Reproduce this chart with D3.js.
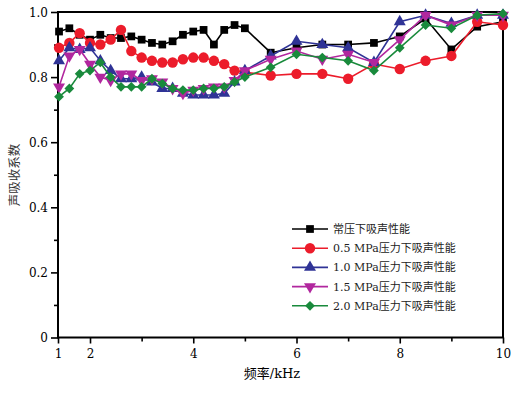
<!DOCTYPE html>
<html>
<head>
  <meta charset="utf-8">
  <script src="https://cdn.jsdelivr.net/npm/d3@7/dist/d3.min.js"></script>
  <style>
    body { margin: 0; background: #fff; }
  </style>
</head>
<body>
  <svg width="526" height="393" id="mainsvg"></svg>
  <script>
    // frequency points (kHz)
    const freqs = [1.4, 1.6, 1.8, 2.0, 2.2, 2.4, 2.6, 2.8, 3.0, 3.2, 3.4, 3.6, 3.8, 4.0, 4.2, 4.4, 4.6, 4.8, 5.0,
                   5.5, 6.0, 6.5, 7.0, 7.5, 8.0, 8.5, 9.0, 9.5, 10.0];
    const normal = [0.94, 0.95, 0.93, 0.915, 0.93, 0.92, 0.92, 0.925, 0.915, 0.905, 0.90, 0.91, 0.93, 0.94, 0.945, 0.90, 0.945, 0.96, 0.95,
                    0.875, 0.89, 0.90, 0.90, 0.905, 0.925, 0.98, 0.885, 0.955, 0.97];
    const p05 = [0.89, 0.905, 0.935, 0.905, 0.90, 0.915, 0.945, 0.88, 0.86, 0.85, 0.845, 0.845, 0.855, 0.86, 0.86, 0.85, 0.84, 0.82, 0.815,
                 0.805, 0.81, 0.81, 0.795, 0.84, 0.825, 0.85, 0.865, 0.97, 0.96];
    const p10 = [0.85, 0.89, 0.885, 0.89, 0.85, 0.82, 0.795, 0.795, 0.80, 0.785, 0.765, 0.765, 0.75, 0.745, 0.745, 0.745, 0.75, 0.785, 0.82,
                 0.865, 0.91, 0.90, 0.89, 0.845, 0.97, 0.99, 0.965, 0.99, 0.99];
    const p15 = [0.77, 0.865, 0.885, 0.84, 0.80, 0.79, 0.81, 0.81, 0.79, 0.795, 0.785, 0.765, 0.75, 0.76, 0.765, 0.77, 0.77, 0.79, 0.82,
                 0.855, 0.88, 0.855, 0.87, 0.845, 0.915, 0.99, 0.96, 0.99, 0.99];
    const p20 = [0.74, 0.765, 0.81, 0.82, 0.845, 0.80, 0.77, 0.77, 0.77, 0.795, 0.78, 0.765, 0.76, 0.76, 0.765, 0.765, 0.77, 0.785, 0.80,
                 0.83, 0.87, 0.86, 0.85, 0.82, 0.89, 0.96, 0.95, 0.99, 0.995];

    const seriesNames = ['常压下吸声性能', '0.5 MPa压力下吸声性能', '1.0 MPa压力下吸声性能', '1.5 MPa压力下吸声性能', '2.0 MPa压力下吸声性能'];
    const seriesValues = [normal, p05, p10, p15, p20];
    const seriesColors = ['#000000', '#ec1c2b', '#2f3396', '#b1279e', '#198a3c'];

    const xTickVals = [1.38, 2, 4, 6, 8, 10];
    const xTickLabels = ['1', '2', '4', '6', '8', '10'];
    const xMinorVals = [3, 5, 7, 9];
    const yTickVals = [0, 0.2, 0.4, 0.6, 0.8, 1.0];
    const yTickLabels = ['0', '0.2', '0.4', '0.6', '0.8', '1.0'];
    const yMinorVals = [0.1, 0.3, 0.5, 0.7, 0.9];

    const svg = d3.select('#mainsvg');
    const margin = { top: 12, right: 23, bottom: 55.5, left: 58 };
    const innerWidth = 526 - margin.left - margin.right;
    const innerHeight = 393 - margin.top - margin.bottom;
    const latin = '"DejaVu Serif", "Noto Sans CJK SC", serif';

    const g = svg.append('g').attr('transform', `translate(${margin.left}, ${margin.top})`);

    const xScale = d3.scaleLinear().domain([xTickVals[0], 10]).range([0, innerWidth]);
    const yScale = d3.scaleLinear().domain([0, 1]).range([innerHeight, 0]);

    // axes (minor ticks drawn without labels)
    const xAxis = d3.axisBottom(xScale).tickValues(xTickVals)
      .tickFormat((d, i) => xTickLabels[i]).tickSize(6).tickPadding(4);
    const xMinor = d3.axisBottom(xScale).tickValues(xMinorVals).tickSize(4);
    const yAxis = d3.axisLeft(yScale).tickValues(yTickVals)
      .tickFormat((d, i) => yTickLabels[i]).tickSize(7).tickPadding(3);
    const yMinor = d3.axisLeft(yScale).tickValues(yMinorVals).tickSize(4);

    [[xAxis, true, false], [xMinor, true, true], [yAxis, false, false], [yMinor, false, true]].forEach(([ax, isX, minor]) => {
      const ag = g.append('g').call(ax).attr('font-size', null).attr('font-family', null);
      if (isX) ag.attr('transform', `translate(0, ${innerHeight})`);
      ag.select('.domain').remove();
      ag.selectAll('line').attr('stroke', '#000').attr('stroke-width', 1.6);
      if (minor) ag.selectAll('text').remove();
      ag.selectAll('text').attr('fill', '#000').attr('dy', null)
        .style('font-family', latin).style('font-size', '12px');
      if (isX) ag.selectAll('text').attr('y', 20);
      else ag.selectAll('text').attr('y', 4);
    });

    // frame
    g.append('rect')
      .attr('width', innerWidth).attr('height', innerHeight)
      .attr('fill', 'none').attr('stroke', '#000').attr('stroke-width', 2);

    const symbols = [
      { type: d3.symbolSquare, size: 60, rot: 0 },
      { type: d3.symbolCircle, size: 85, rot: 0 },
      { type: d3.symbolTriangle, size: 62, rot: 0 },
      { type: d3.symbolTriangle, size: 62, rot: 180 },
      { type: d3.symbolSquare, size: 48, rot: 45 }
    ];

    const line = d3.line().x((d, i) => xScale(freqs[i])).y(d => yScale(d));

    seriesValues.forEach((vals, s) => {
      const sg = g.append('g');
      sg.append('path').datum(vals)
        .attr('d', line).attr('fill', 'none')
        .attr('stroke', seriesColors[s]).attr('stroke-width', 1.6);
      sg.selectAll('path.mk').data(vals).enter().append('path')
        .attr('class', 'mk')
        .attr('d', d3.symbol().type(symbols[s].type).size(symbols[s].size))
        .attr('transform', (d, i) => `translate(${xScale(freqs[i])}, ${yScale(d)}) rotate(${symbols[s].rot})`)
        .attr('fill', seriesColors[s]);
    });

    // legend
    const legend = svg.append('g').attr('transform', 'translate(292, 229)');
    seriesNames.forEach((name, s) => {
      const row = legend.append('g').attr('transform', `translate(0, ${s * 19.2})`);
      row.append('line').attr('x1', 0).attr('x2', 36).attr('y1', 0).attr('y2', 0)
        .attr('stroke', seriesColors[s]).attr('stroke-width', 1.6);
      row.append('path')
        .attr('d', d3.symbol().type(symbols[s].type).size(symbols[s].size))
        .attr('transform', `translate(18, 0) rotate(${symbols[s].rot})`)
        .attr('fill', seriesColors[s]);
      row.append('text').attr('x', 41).attr('y', 4)
        .style('font-family', latin).style('font-size', '11px')
        .attr('fill', '#222').text(name);
    });

    // axis titles
    svg.append('text')
      .attr('x', margin.left + 214).attr('y', 378)
      .attr('text-anchor', 'middle')
      .style('font-family', latin).style('font-size', '13px')
      .text('频率/kHz');
    svg.append('text')
      .attr('transform', 'translate(19, 175) rotate(-90)')
      .attr('text-anchor', 'middle')
      .style('font-family', latin).style('font-size', '12.5px')
      .attr('fill', '#333')
      .text('声吸收系数');
  </script>
</body>
</html>
